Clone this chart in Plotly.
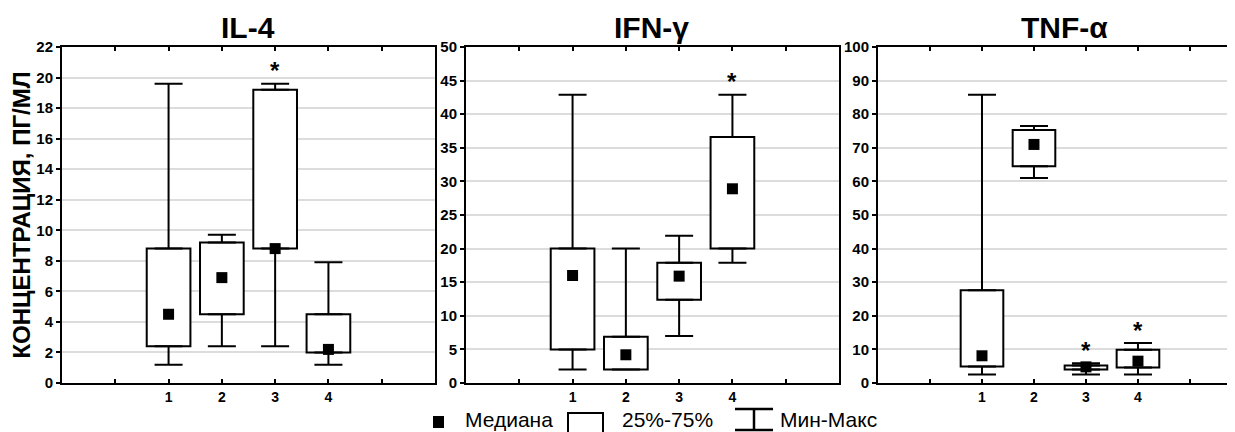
import plotly.graph_objects as go

W, H = 1235, 432

# ---------------- data ----------------
groups = [1, 2, 3, 4]
tick_vals = [0, 1, 2, 3, 4, 5]
tick_text = ["", "1", "2", "3", "4", ""]

titles = ["IL-4", "IFN-γ", "TNF-α"]
y_label = "КОНЦЕНТРАЦИЯ, ПГ/МЛ"

il4_min = [1.2, 2.4, 2.4, 1.2]
il4_q1 = [2.4, 4.5, 8.8, 2.0]
il4_med = [4.5, 6.9, 8.8, 2.2]
il4_q3 = [8.8, 9.2, 19.2, 4.5]
il4_max = [19.6, 9.7, 19.6, 7.9]
il4_star = [False, False, True, False]

ifn_min = [2.0, 2.0, 7.0, 17.9]
ifn_q1 = [5.0, 2.0, 12.4, 20.0]
ifn_med = [16.0, 4.2, 15.9, 28.9]
ifn_q3 = [20.0, 6.9, 17.9, 36.6]
ifn_max = [42.9, 20.0, 21.9, 42.9]
ifn_star = [False, False, False, True]

tnf_min = [2.5, 61.0, 2.5, 2.5]
tnf_q1 = [4.9, 64.5, 4.0, 4.6]
tnf_med = [8.1, 71.0, 4.8, 6.5]
tnf_q3 = [27.6, 75.3, 5.2, 9.9]
tnf_max = [85.8, 76.5, 5.9, 11.9]
tnf_star = [False, False, True, True]

y_ranges = [[0, 22], [0, 50], [0, 100]]
y_dticks = [2, 5, 10]

legend_labels = ["Медиана", "25%-75%", "Мин-Макс"]

panels = [
    (il4_min, il4_q1, il4_med, il4_q3, il4_max, il4_star),
    (ifn_min, ifn_q1, ifn_med, ifn_q3, ifn_max, ifn_star),
    (tnf_min, tnf_q1, tnf_med, tnf_q3, tnf_max, tnf_star),
]

# ---------------- layout geometry (screen pixels) ----------------
OFF = 8  # page body margin in the browser
x_px = [(62, 435), (466, 839), (878, 1243)]
x_ranges = [[-1, 6], [-1, 6], [-1, 6.02]]
title_cx = [248, 652, 1064]
y_top, y_bot = 47, 383
FONT = "Arial, 'Liberation Sans', sans-serif"


def px(x):
    return (x - OFF) / W


def py(y):
    return 1 - (y - OFF) / H


fig = go.Figure()
annotations = []
shapes = []

for i, (mn, q1, med, q3, mx, star) in enumerate(panels):
    sfx = "" if i == 0 else str(i + 1)
    xa, ya = "x" + sfx, "y" + sfx

    # IQR boxes
    fig.add_trace(go.Bar(
        x=groups, y=[b - a for a, b in zip(q1, q3)], base=q1, width=0.82,
        marker=dict(color="white", line=dict(color="black", width=2)),
        xaxis=xa, yaxis=ya, hoverinfo="skip", showlegend=False))
    # upper whiskers
    fig.add_trace(go.Scatter(
        x=groups, y=q3, mode="markers", marker=dict(size=0.1, color="rgba(0,0,0,0)"),
        error_y=dict(type="data", symmetric=False,
                     array=[b - a for a, b in zip(q3, mx)], arrayminus=[0] * 4,
                     color="black", thickness=2, width=14),
        xaxis=xa, yaxis=ya, hoverinfo="skip", showlegend=False))
    # lower whiskers
    fig.add_trace(go.Scatter(
        x=groups, y=q1, mode="markers", marker=dict(size=0.1, color="rgba(0,0,0,0)"),
        error_y=dict(type="data", symmetric=False,
                     array=[0] * 4, arrayminus=[a - b for a, b in zip(q1, mn)],
                     color="black", thickness=2, width=14),
        xaxis=xa, yaxis=ya, hoverinfo="skip", showlegend=False))
    # medians
    fig.add_trace(go.Scatter(
        x=groups, y=med, mode="markers",
        marker=dict(symbol="square", size=11, color="black"),
        xaxis=xa, yaxis=ya, showlegend=False))

    # significance stars
    for g, s, m in zip(groups, star, mx):
        if s:
            annotations.append(dict(
                x=g, y=m, xref=xa, yref=ya, text="*", showarrow=False,
                yanchor="middle", yshift=13,
                font=dict(family=FONT, size=24, color="black", weight="bold")))

    # panel title
    annotations.append(dict(
        x=px(title_cx[i]), y=py(28), xref="paper", yref="paper", text=titles[i],
        showarrow=False, xanchor="center", yanchor="middle",
        font=dict(family=FONT, size=30, color="black", weight="bold")))

    fig.layout["xaxis" + sfx] = dict(
        domain=[max(0, px(x_px[i][0])), min(1, px(x_px[i][1]))], range=x_ranges[i],
        anchor=ya, tickvals=tick_vals, ticktext=tick_text, automargin=False,
        ticks="inside", ticklen=4, tickwidth=2, tickcolor="black",
        showline=True, linecolor="black", linewidth=2, mirror="ticks",
        showgrid=False, zeroline=False,
        tickfont=dict(family=FONT, size=14, color="black", weight="bold"))
    fig.layout["yaxis" + sfx] = dict(
        domain=[py(y_bot), py(y_top)], range=y_ranges[i], dtick=y_dticks[i],
        anchor=xa, ticks="outside", ticklen=4, tickwidth=1.5, tickcolor="black",
        showline=True, linecolor="black", linewidth=2, mirror=(i < 2),
        automargin=False,
        showgrid=True, gridcolor="#dcdcdc", gridwidth=1.5, zeroline=False,
        tickfont=dict(family=FONT, size=15, color="black", weight="bold"))

fig.layout.yaxis.title = dict(
    text=y_label, standoff=5,
    font=dict(family=FONT, size=24, color="black", weight="bold"))

# ---------------- legend (drawn below the panels) ----------------
shapes.append(dict(type="rect", xref="paper", yref="paper",
                   x0=px(433), x1=px(444), y0=py(428), y1=py(416),
                   fillcolor="black", line=dict(width=0)))
shapes.append(dict(type="rect", xref="paper", yref="paper",
                   x0=px(568), x1=px(603), y0=py(446), y1=py(413),
                   fillcolor="white", line=dict(color="black", width=2)))
shapes.append(dict(type="line", xref="paper", yref="paper",
                   x0=px(735), x1=px(773), y0=py(409), y1=py(409),
                   line=dict(color="black", width=2.5)))
shapes.append(dict(type="line", xref="paper", yref="paper",
                   x0=px(754), x1=px(754), y0=py(409), y1=py(430),
                   line=dict(color="black", width=2.5)))
shapes.append(dict(type="line", xref="paper", yref="paper",
                   x0=px(735), x1=px(773), y0=py(430), y1=py(430),
                   line=dict(color="black", width=2.5)))
for lx, lab in zip([463, 620, 778], legend_labels):
    annotations.append(dict(
        x=px(lx), y=py(419), xref="paper", yref="paper", text=lab,
        showarrow=False, xanchor="left", yanchor="middle",
        font=dict(family=FONT, size=21, color="black")))

fig.update_layout(
    width=W, height=H, margin=dict(l=0, r=0, t=0, b=0, autoexpand=False),
    paper_bgcolor="white", plot_bgcolor="white",
    annotations=annotations, shapes=shapes, showlegend=False,
    barmode="overlay", font=dict(family=FONT, color="black"))

fig.write_html("out.html")
